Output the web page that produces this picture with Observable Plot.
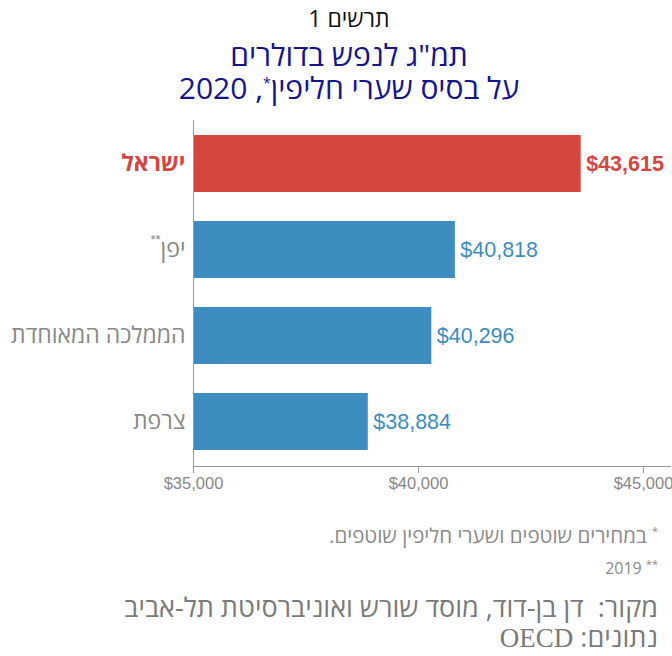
<!DOCTYPE html>
<html lang="he">
<head>
<meta charset="utf-8">
<script src="https://cdn.jsdelivr.net/npm/d3@7"></script>
<script src="https://cdn.jsdelivr.net/npm/@observablehq/plot@0.6"></script>
<style>
  html, body { margin: 0; padding: 0; background: #fff; }
  body { width: 672px; height: 656px; overflow: hidden; font-family: "Open Sans", sans-serif; }
  #head { direction: rtl; text-align: center; padding-left: 26px; height: 108px; box-sizing: border-box; }
  #kicker { font-size: 23px; color: #111; padding-top: 4px; line-height: 28px; }
  #title { font-size: 30px; color: #14148c; line-height: 33px; margin-top: 6px; }
  #title sup { font-size: 14px; line-height: 0; }
  #chart svg { overflow: visible; display: block; }
  #foot { direction: rtl; text-align: right; padding-right: 14px; color: #8a8a8a; }
  .fn { font-size: 20.5px; line-height: 30px; }
  .fn sup { font-size: 11px; }
  .fn2 { font-size: 16px; line-height: 27px; }
  .src { font-size: 27px; line-height: 30px; color: #7a7a7a; }
  .serif { font-family: "Liberation Serif", "DejaVu Serif", serif; }
</style>
</head>
<body>
<div id="head">
  <div id="kicker">תרשים 1</div>
  <div id="title">תמ"ג לנפש בדולרים<br>על בסיס שערי חליפין<sup>*</sup>, 2020</div>
</div>
<div id="chart"></div>
<div id="foot">
  <div class="fn" style="margin-top:18px"><sup>*</sup> במחירים שוטפים ושערי חליפין שוטפים.</div>
  <div class="fn fn2"><sup>**</sup> 2019</div>
  <div class="src" style="margin-top:10px">מקור:&nbsp; דן בן-דוד, מוסד שורש ואוניברסיטת תל-אביב</div>
  <div class="src">נתונים: <span class="serif">OECD</span></div>
</div>
<script>
const countries = ["ישראל", "יפן", "הממלכה המאוחדת", "צרפת"];
const values = [43615, 40818, 40296, 38884];
const highlight = ["ישראל"];
const xTicks = [35000, 40000, 45000];
const footMarks = ["", "**", "", ""];

const data = countries.map((c, i) => ({country: c, value: values[i], mark: footMarks[i], hi: highlight.includes(c)}));
const RED = "#d4463f", BLUE = "#3d8dc0", GRAY = "#888888";
const fmt = d => "$" + d3.format(",")(d);
const base = xTicks[0];

const chart = Plot.plot({
  width: 672,
  height: 390,
  marginLeft: 193,
  marginRight: 2,
  marginTop: 12,
  marginBottom: 32,
  style: {fontFamily: "'Liberation Sans', Arial, sans-serif", overflow: "visible"},
  x: {domain: [35000, 45600], axis: null},
  y: {domain: countries, paddingInner: 0.334, paddingOuter: 0.174, axis: null},
  marks: [
    Plot.barX(data, {x1: base, x2: "value", y: "country", fill: d => d.hi ? RED : BLUE}),
    Plot.frame({anchor: "left", stroke: "#999", strokeWidth: 1}),
    Plot.frame({anchor: "bottom", stroke: "#999", strokeWidth: 1}),
    Plot.axisX({ticks: xTicks, tickFormat: fmt, tickSize: 7, tickPadding: 4, fontSize: 16.5, color: GRAY, stroke: "#999", label: null}),
    Plot.text(data.filter(d => d.hi), {x: "value", y: "country", text: d => fmt(d.value), dx: 5, textAnchor: "start", fill: RED, fontSize: 21.5, fontWeight: "bold"}),
    Plot.text(data.filter(d => !d.hi), {x: "value", y: "country", text: d => fmt(d.value), dx: 5, textAnchor: "start", fill: BLUE, fontSize: 21.5}),
    Plot.text(data.filter(d => d.hi), {x: base, y: "country", text: "country", dx: -8, textAnchor: "end", fill: RED, fontSize: 23, fontWeight: "bold", fontFamily: "'Open Sans', sans-serif"}),
    Plot.text(data.filter(d => !d.hi), {x: base, y: "country", text: "country", dx: -8, textAnchor: "end", fill: GRAY, fontSize: 23, fontWeight: 500, fontFamily: "'Open Sans', sans-serif"}),
    Plot.text(data.filter(d => d.mark), {x: base, y: "country", text: "mark", dx: -33, dy: -10, textAnchor: "end", fill: GRAY, fontSize: 13})
  ]
});
document.getElementById("chart").appendChild(chart);
</script>
</body>
</html>
